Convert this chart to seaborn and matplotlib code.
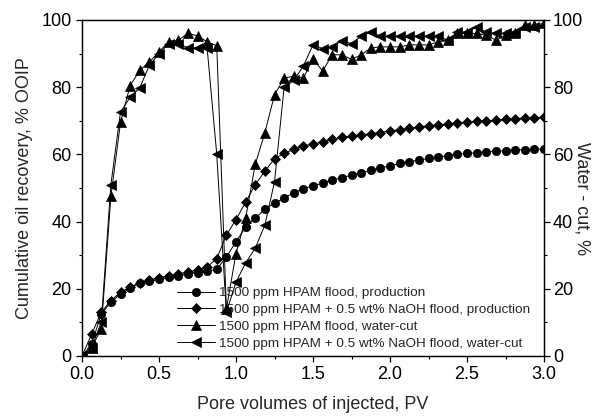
import numpy as np
import pandas as pd
import matplotlib
matplotlib.use("Agg")
import matplotlib.pyplot as plt
from matplotlib.ticker import MultipleLocator
import seaborn as sns

# Pore volumes injected (sampling step 1/16 PV)
pv = [0.0, 0.0625, 0.125, 0.1875, 0.25, 0.3125, 0.375, 0.4375, 0.5, 0.5625,
      0.625, 0.6875, 0.75, 0.8125, 0.875, 0.9375, 1.0, 1.0625, 1.125, 1.1875,
      1.25, 1.3125, 1.375, 1.4375, 1.5, 1.5625, 1.625, 1.6875, 1.75, 1.8125,
      1.875, 1.9375, 2.0, 2.0625, 2.125, 2.1875, 2.25, 2.3125, 2.375, 2.4375,
      2.5, 2.5625, 2.625, 2.6875, 2.75, 2.8125, 2.875, 2.9375, 3.0]

# Cumulative oil recovery, % OOIP
hpam_production = [0, 3.5, 12.5, 16, 18.5, 20.2, 21.7, 22.3, 22.9, 23.5,
                   23.8, 24.4, 24.8, 25.2, 25.8, 29.5, 34, 38.4, 41, 43.7,
                   45.5, 47, 48.6, 49.8, 50.6, 51.5, 52.4, 53, 53.9, 54.5,
                   55.3, 56, 56.6, 57.3, 57.8, 58.3, 58.8, 59.2, 59.6, 60,
                   60.3, 60.5, 60.7, 60.9, 61.1, 61.3, 61.4, 61.5, 61.6]
naoh_production = [0, 6.5, 13, 16.5, 19, 20.5, 21.8, 22.6, 23.3, 23.9,
                   24.4, 25, 25.6, 26.5, 29, 36, 40.6, 45.8, 51, 55,
                   58.7, 60.3, 61.5, 62.5, 63.1, 63.7, 64.5, 65.1, 65.5, 65.8,
                   66.1, 66.5, 67, 67.3, 67.8, 68.2, 68.5, 68.8, 69.1, 69.3,
                   69.6, 69.8, 70, 70.2, 70.4, 70.6, 70.8, 70.9, 71.1]

# Water-cut, %
hpam_watercut = [0, 2.5, 8, 47.5, 69.5, 80.5, 85, 87.5, 90.5, 93.5,
                 94, 96, 95.3, 93.5, 92.3, 14, 30.5, 41, 57, 66.5,
                 77.7, 82.7, 83.3, 82.7, 88.5, 84.8, 89.7, 89.6, 88.3, 89.6,
                 91.7, 92, 92, 92, 92.6, 92.6, 92.6, 93.5, 94, 96,
                 96, 96, 95.5, 94, 95.5, 96, 98.5, 98.5, 99]
naoh_watercut = [0, 2.5, 10, 51, 72.6, 77, 79.8, 86.5, 90, 93,
                 93, 91.7, 91.7, 91.7, 60, 13, 22, 27.7, 32.1, 39,
                 51.8, 80, 82, 86.3, 92.6, 91.5, 92, 93.8, 93, 95.2,
                 96.4, 95.2, 95.2, 95.2, 95.2, 95.2, 95.2, 95.2, 94, 96.4,
                 96.4, 97.9, 96.4, 96, 96, 96.4, 97.9, 97.9, 98.5]

labels = ["1500 ppm HPAM flood, production",
          "1500 ppm HPAM + 0.5 wt% NaOH flood, production",
          "1500 ppm HPAM flood, water-cut",
          "1500 ppm HPAM + 0.5 wt% NaOH flood, water-cut"]

x_ticks = [0.0, 0.5, 1.0, 1.5, 2.0, 2.5, 3.0]
y_ticks = [0, 20, 40, 60, 80, 100]

sns.set_theme(style="ticks")
plt.rcParams["font.family"] = ["Liberation Sans", "DejaVu Sans"]
plt.rcParams.update({
    "axes.linewidth": 0.9,
    "xtick.major.size": 4, "ytick.major.size": 4,
    "xtick.minor.size": 2.5, "ytick.minor.size": 2.5,
    "xtick.major.width": 0.9, "ytick.major.width": 0.9,
    "xtick.minor.width": 0.8, "ytick.minor.width": 0.8,
    "xtick.color": "black", "ytick.color": "black",
    "axes.edgecolor": "black",
})

fig = plt.figure(figsize=(5.93, 4.18), dpi=100)
ax = fig.add_axes([82 / 593, 1 - 356 / 418, 462 / 593, 336 / 418])
ax2 = ax.twinx()

line_kw = dict(color="black", linewidth=0.7, markeredgecolor="black",
               markeredgewidth=0.5, legend=False)

sns.lineplot(x=pv, y=hpam_production, ax=ax, marker="o", markersize=6, **line_kw)
sns.lineplot(x=pv, y=naoh_production, ax=ax, marker="D", markersize=5.5, **line_kw)
sns.lineplot(x=pv, y=hpam_watercut, ax=ax2, marker="^", markersize=7, **line_kw)
sns.lineplot(x=pv, y=naoh_watercut, ax=ax2, marker="<", markersize=7, **line_kw)

for a in (ax, ax2):
    a.set_ylim(0, 100)
    a.set_yticks(y_ticks)
    a.yaxis.set_minor_locator(MultipleLocator(10))
    a.tick_params(axis="both", which="major", labelsize=13)
ax2.tick_params(axis="y", which="major", pad=2.5)
ax.set_xlim(0, 3.0)
ax.set_xticks(x_ticks)
ax.set_xticklabels([f"{t:.1f}" for t in x_ticks])
ax.xaxis.set_minor_locator(MultipleLocator(0.25))
ax.set_yticklabels([str(t) for t in y_ticks])
ax2.set_yticklabels([str(t) for t in y_ticks])

ax.set_xlabel("Pore volumes of injected, PV", fontsize=13, labelpad=9)
ax.set_ylabel("Cumulative oil recovery, % OOIP", fontsize=13, labelpad=6)
ax2.set_ylabel("Water - cut, %", fontsize=13, rotation=270,
               ha="center", va="center")
ax2.yaxis.set_label_coords(1.082, 0.47)

for s in ("top", "right", "left", "bottom"):
    ax.spines[s].set_visible(True)
    ax2.spines[s].set_visible(True)

handles = ax.get_lines() + ax2.get_lines()
ax.legend(handles, labels, loc="upper left", bbox_to_anchor=(0.195, 0.222),
          frameon=False, fontsize=9.7, handlelength=2.8, handletextpad=0.3,
          labelspacing=0.33, borderaxespad=0, numpoints=1)

fig.savefig("out.png", dpi=100)
